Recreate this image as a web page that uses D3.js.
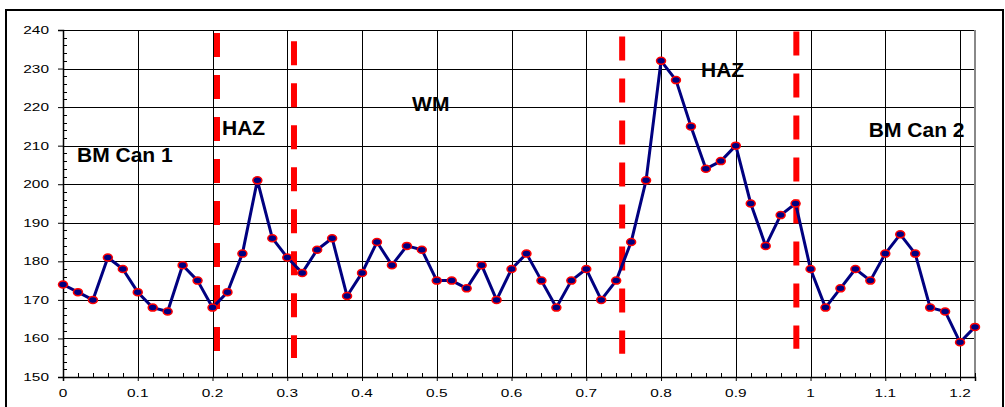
<!DOCTYPE html>
<html>
<head>
<meta charset="utf-8">
<script src="https://cdn.jsdelivr.net/npm/d3@7"></script>
<style>
body { margin: 0; background: #fff; }
svg { display: block; }
text { font-family: "Liberation Sans", Arial, sans-serif; }
</style>
</head>
<body>
<div id="chart"></div>
<script>
// distance across the weld and hardness readings
var distance = [0,0.02,0.04,0.06,0.08,0.1,0.12,0.14,0.16,0.18,0.2,0.22,0.24,0.26,0.28,0.3,0.32,0.34,0.36,0.38,
  0.4,0.42,0.44,0.46,0.48,0.5,0.52,0.54,0.56,0.58,0.6,0.62,0.64,0.66,0.68,0.7,0.72,0.74,0.76,0.78,
  0.8,0.82,0.84,0.86,0.88,0.9,0.92,0.94,0.96,0.98,1,1.02,1.04,1.06,1.08,1.1,1.12,1.14,1.16,1.18,1.2,1.22];
var hardness = [174,172,170,181,178,172,168,167,179,175,168,172,182,201,186,181,177,183,186,171,
  177,185,179,184,183,175,175,173,179,170,178,182,175,168,175,178,170,175,185,201,
  232,227,215,204,206,210,195,184,192,195,178,168,173,178,175,182,187,182,168,167,159,163];

var xTicks = [0,0.1,0.2,0.3,0.4,0.5,0.6,0.7,0.8,0.9,1,1.1,1.2];
var yTicks = [150,160,170,180,190,200,210,220,230,240];

// zone boundaries (red dashed lines)
var dividerX = [0.206, 0.309, 0.748, 0.981];
var dividerTop = [239.2, 237.1, 238.3, 239.6];
var dividerBottom = [156.7, 154.9, 156, 157.3];

// zone names and where they sit (data units)
var zoneNames = ["BM Can 1", "HAZ", "WM", "HAZ", "BM Can 2"];
var zoneX = [0.0187, 0.2127, 0.467, 0.8535, 1.078];
var zoneY = [205.8, 212.8, 219.0, 227.8, 212.3];

var W = 1005, H = 407;
var svg = d3.select("#chart").append("svg")
  .attr("width", W)
  .attr("height", H);

// outer frame
svg.append("rect")
  .attr("x", 6).attr("y", 10)
  .attr("width", 997).attr("height", 410)
  .attr("fill", "none")
  .attr("stroke", "#000")
  .attr("stroke-width", 2);

var x = d3.scaleLinear().domain([0, 1.22]).range([63, 975]);
var y = d3.scaleLinear().domain([150, 240]).range([377, 30]);

// snap to pixel centres so 1px lines stay sharp
function px(v){ return Math.round(v) + 0.5; }

// grid
var grid = svg.append("g").attr("shape-rendering", "crispEdges");
grid.selectAll("line.h")
  .data(yTicks.slice(1))
  .enter().append("line")
  .attr("x1", x(0)).attr("x2", x(1.22))
  .attr("y1", function(d){ return px(y(d)); })
  .attr("y2", function(d){ return px(y(d)); })
  .attr("stroke", "#000")
  .attr("stroke-width", 1);
grid.selectAll("line.v")
  .data(xTicks.slice(1))
  .enter().append("line")
  .attr("x1", function(d){ return px(x(d)); })
  .attr("x2", function(d){ return px(x(d)); })
  .attr("y1", y(150)).attr("y2", y(240))
  .attr("stroke", "#000")
  .attr("stroke-width", 1);
// right frame of plot area
grid.append("line")
  .attr("x1", x(1.22)).attr("x2", x(1.22))
  .attr("y1", y(150)).attr("y2", y(240))
  .attr("stroke", "#888")
  .attr("stroke-width", 2);

// minor ticks
var yMinor = d3.range(150, 240, 2).filter(function(v){ return v % 10 != 0; });
var xMinor = d3.range(0, 62).map(function(i){ return i * 0.02; }).filter(function(v){ return Math.abs(v * 10 - Math.round(v * 10)) > 1e-6; });

svg.append("g").attr("shape-rendering", "crispEdges").selectAll("line")
  .data(yMinor)
  .enter().append("line")
  .attr("x1", x(0)).attr("x2", x(0) + 4)
  .attr("y1", function(d){ return px(y(d)); })
  .attr("y2", function(d){ return px(y(d)); })
  .attr("stroke", "#000");
svg.append("g").attr("shape-rendering", "crispEdges").selectAll("line")
  .data(xMinor)
  .enter().append("line")
  .attr("x1", function(d){ return px(x(d)); })
  .attr("x2", function(d){ return px(x(d)); })
  .attr("y1", y(150)).attr("y2", y(150) - 4)
  .attr("stroke", "#000");

// axes
var yAxis = svg.append("g")
  .attr("transform", "translate(" + x(0) + ",0)")
  .call(d3.axisLeft(y).tickValues(yTicks).tickSize(5).tickFormat(""));
yAxis.select(".domain").attr("stroke", "#000").attr("stroke-width", 1.5);

var xAxis = svg.append("g")
  .attr("transform", "translate(0," + y(150) + ")")
  .call(d3.axisBottom(x).tickValues(xTicks).tickSize(4).tickFormat(""));
xAxis.select(".domain").attr("stroke", "#000").attr("stroke-width", 1.5);

// tick labels (stretched horizontally like the original)
svg.append("g").selectAll("text")
  .data(yTicks)
  .enter().append("text")
  .attr("transform", function(d){ return "translate(49," + (y(d) + 4) + ") scale(1.4,1)"; })
  .attr("text-anchor", "end")
  .attr("font-size", 11)
  .attr("fill", "#000")
  .text(function(d){ return d; });

svg.append("g").selectAll("text")
  .data(xTicks)
  .enter().append("text")
  .attr("transform", function(d){ return "translate(" + x(d) + ",397) scale(1.4,1)"; })
  .attr("text-anchor", "middle")
  .attr("font-size", 11)
  .attr("fill", "#000")
  .text(function(d){ return d; });

// red dashed zone boundaries
svg.append("g").selectAll("line")
  .data(dividerX)
  .enter().append("line")
  .attr("x1", function(d){ return x(d); })
  .attr("x2", function(d){ return x(d); })
  .attr("y1", function(d, i){ return y(dividerTop[i]); })
  .attr("y2", function(d, i){ return y(dividerBottom[i]); })
  .attr("stroke", "#ff0000")
  .attr("stroke-width", 6)
  .attr("stroke-dasharray", "24,18");

// series
var pts = distance.map(function(d, i){ return [d, hardness[i]]; });
svg.append("path")
  .datum(pts)
  .attr("fill", "none")
  .attr("stroke", "#000080")
  .attr("stroke-width", 3)
  .attr("stroke-linejoin", "round")
  .attr("d", d3.line().x(function(d){ return x(d[0]); }).y(function(d){ return y(d[1]); }));

svg.append("g").selectAll("ellipse")
  .data(pts)
  .enter().append("ellipse")
  .attr("cx", function(d){ return x(d[0]); })
  .attr("cy", function(d){ return y(d[1]); })
  .attr("rx", 4.5)
  .attr("ry", 3.5)
  .attr("fill", "#000080")
  .attr("stroke", "#ff0000")
  .attr("stroke-width", 1.5);

// zone labels
svg.append("g").selectAll("text")
  .data(zoneNames)
  .enter().append("text")
  .attr("x", function(d, i){ return x(zoneX[i]); })
  .attr("y", function(d, i){ return y(zoneY[i]); })
  .attr("font-size", 21)
  .attr("font-weight", "bold")
  .attr("fill", "#000")
  .text(function(d){ return d; });
</script>
</body>
</html>
